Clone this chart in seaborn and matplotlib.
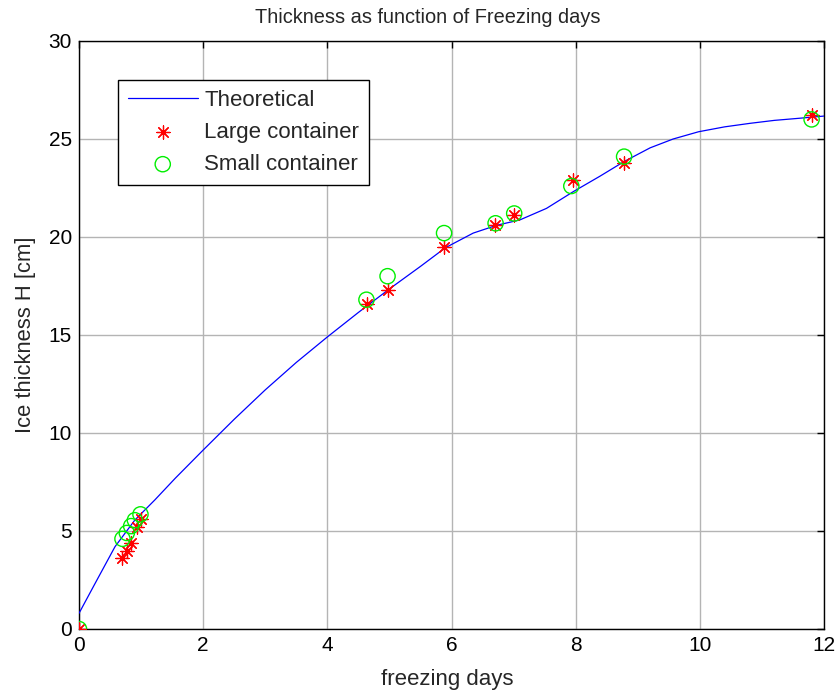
import matplotlib
matplotlib.use("Agg")
import matplotlib.pyplot as plt
import seaborn as sns
import pandas as pd

# Theoretical ice growth curve
theory_days = [0, 0.26, 0.58, 0.9, 1.22, 1.55, 2.0, 2.5, 3.0, 3.5, 4.0, 4.5,
               5.0, 5.5, 5.9, 6.35, 6.73, 7.1, 7.53, 7.96, 8.39, 8.78, 9.2,
               9.57, 9.98, 10.4, 10.81, 11.2, 11.61, 12.0]
theory_H = [0.8, 2.33, 4.2, 5.56, 6.58, 7.69, 9.13, 10.7, 12.2, 13.6, 14.9,
            16.15, 17.35, 18.5, 19.45, 20.2, 20.6, 20.87, 21.46, 22.31, 23.1,
            23.85, 24.55, 25.0, 25.37, 25.62, 25.8, 25.95, 26.06, 26.17]

# Measurements
large_days = [0, 0.70, 0.77, 0.84, 0.93, 1.0, 4.64, 4.98, 5.88, 6.70, 7.0,
              7.95, 8.78, 11.8]
large_H = [0, 3.6, 4.0, 4.4, 5.2, 5.6, 16.6, 17.3, 19.5, 20.6, 21.1,
           22.9, 23.8, 26.2]

small_days = [0, 0.70, 0.77, 0.84, 0.90, 0.99, 4.63, 4.97, 5.88, 6.71, 7.01,
              7.93, 8.78, 11.8]
small_H = [0, 4.6, 4.9, 5.25, 5.55, 5.85, 16.8, 18.0, 20.2, 20.7, 21.2,
           22.6, 24.1, 26.0]

x_ticks = [0, 2, 4, 6, 8, 10, 12]
y_ticks = [0, 5, 10, 15, 20, 25, 30]

sns.set_style("white")
plt.rcParams["font.family"] = ["Liberation Sans", "DejaVu Sans"]

fig = plt.figure(figsize=(8.35, 6.91), dpi=100)
ax = fig.add_axes([79 / 835, 1 - 629 / 691, 745 / 835, 588 / 691])

theory = pd.DataFrame({"days": theory_days, "H": theory_H})
large = pd.DataFrame({"days": large_days, "H": large_H})
small = pd.DataFrame({"days": small_days, "H": small_H})

sns.lineplot(data=theory, x="days", y="H", ax=ax, color="blue", lw=0.9,
             label="Theoretical", zorder=3)
sns.scatterplot(data=large, x="days", y="H", ax=ax, marker=(8, 2, 0),
                s=90, color="red", edgecolor="red", linewidth=0.9,
                label="Large container", zorder=4)
sns.scatterplot(data=small, x="days", y="H", ax=ax, marker="o", s=120,
                facecolor="none", edgecolor="#00ee00", linewidth=1.0,
                label="Small container", zorder=5)

ax.set_xlim(0, 12)
ax.set_ylim(0, 30)
ax.set_xticks(x_ticks)
ax.set_yticks(y_ticks)
ax.tick_params(direction="in", length=5, width=1, top=True, right=True,
               labelsize=15, colors="black", pad=5)
ax.grid(True, color="#b4b4b4", lw=1)
for sp in ax.spines.values():
    sp.set_color("black")
    sp.set_linewidth(1)

ax.set_xlabel("freezing days", fontsize=16)
ax.xaxis.set_label_coords(0.4946, -0.068)
ax.set_ylabel("Ice thickness H [cm]", fontsize=15.8, labelpad=9)
ax.set_title("Thickness as function of Freezing days", fontsize=14.4, pad=13,
             x=0.468)

leg = ax.legend(loc="upper left", bbox_to_anchor=(0.052, 0.934),
                fontsize=16, handlelength=3.15, frameon=True, fancybox=False,
                borderpad=0.45, labelspacing=0.5, handletextpad=0.3,
                borderaxespad=0)
leg.get_frame().set_edgecolor("black")
leg.get_frame().set_linewidth(1)
leg.get_frame().set_alpha(1)

fig.savefig("out.png", dpi=100)
